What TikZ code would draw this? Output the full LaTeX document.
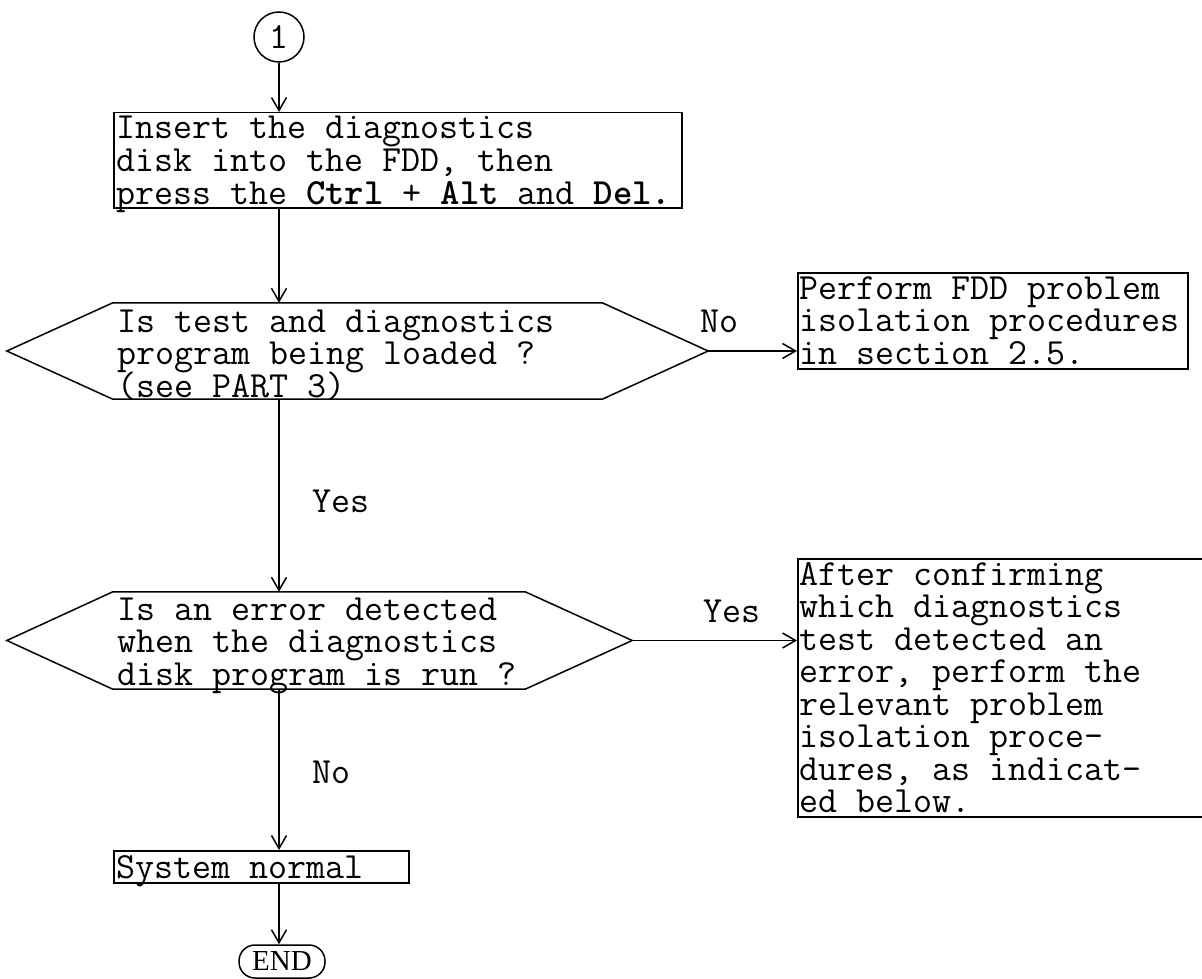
\documentclass[tikz,border=0pt]{standalone}
\usepackage{fontspec}
\newfontfamily\tms{Liberation Serif}
\usetikzlibrary{arrows.meta,calc}
\tikzset{
  ln/.style={line width=1.5pt},
  arr/.style={ln, -{Straight Barb[length=13pt,width=15pt,line width=1.5pt]}},
  boxn/.style={draw, ln, anchor=north west, inner sep=0pt},
  txt/.style={anchor=base west, inner sep=0pt, text height=21pt, text depth=7pt,
    font=\ttfamily\fontsize{36.9}{32.5}\selectfont},
  hexn/.style={inner sep=0pt, draw=none}
}
\newcommand\txtlines[4]{%
  \foreach \l [count=\i] in {#4} {\node[txt] (#1-\i) at (#2, {#3+(\i-1)*32.5}) {\l};}}
\begin{document}
\begin{tikzpicture}[x=1pt,y=-1pt]
\useasboundingbox (0,0) rectangle (1202,979);
\clip (0,0) rectangle (1202,979);
% start connector
\node[draw, ln, circle, minimum size=50pt, inner sep=0pt, font=\ttfamily\fontsize{36.9}{36.9}\selectfont] (c1) at (279,37) {1};
% box 1
\node[boxn, minimum width=568pt, minimum height=95pt] (b1) at (113,112) {};
\txtlines{t1}{116}{139}{{Insert the diagnostics},{disk into the FDD, then},{press the \textbf{Ctrl} + \textbf{Alt} and \textbf{Del.}}}
% decision 1
\node[hexn, minimum width=701pt, minimum height=96pt] (d1) at (357.5,351) {};
\draw[ln] (d1.west) -- ($(d1.north west)+(106,0)$) -- ($(d1.north east)+(-106,0)$) -- (d1.east)
  -- ($(d1.south east)+(-106,0)$) -- ($(d1.south west)+(106,0)$) -- cycle;
\txtlines{t2}{117}{332}{{Is test and diagnostics},{program being loaded ?},{(see PART 3)}}
% box 2
\node[boxn, minimum width=390pt, minimum height=96pt] (b2) at (797,272) {};
\txtlines{t3}{799}{299}{{Perform FDD problem},{isolation procedures},{in section 2.5.}}
% decision 2
\node[hexn, minimum width=625pt, minimum height=97pt] (d2) at (319.5,640.5) {};
\draw[ln] (d2.west) -- ($(d2.north west)+(106,0)$) -- ($(d2.north east)+(-107,0)$) -- (d2.east)
  -- ($(d2.south east)+(-107,0)$) -- ($(d2.south west)+(106,0)$) -- cycle;
\txtlines{t4}{117}{620}{{Is an error detected},{when the diagnostics},{disk program is run ?}}
% box 3
\node[boxn, minimum width=420pt, minimum height=258pt] (b3) at (797,558) {};
\txtlines{t5}{799}{585}{{After confirming},{which diagnostics},{test detected an},{error, perform the},{relevant problem},{isolation proce-},{dures, as indicat-},{ed below.}}
% box 4
\node[boxn, minimum width=295pt, minimum height=32pt] (b4) at (113,850) {};
\txtlines{t6}{116}{878}{{System normal}}
% end terminal
\node[draw, ln, rounded corners=16pt, minimum width=86pt, minimum height=33pt, inner sep=0pt,
  font=\tms\fontsize{29}{29}\selectfont] (e1) at (282,961.5) {END};
% labels
\node[txt] (l1) at (700,332) {No};
\node[txt] (l2) at (312,512) {Yes};
\node[txt] (l3) at (703,622) {Yes};
\node[txt] (l4) at (312,783) {No};
% connectors
\draw[arr] (c1.south) -- (c1.south |- b1.north);
\draw[arr] (c1.south |- b1.south) -- (c1.south |- d1.north);
\draw[arr] (d1.east) -- (d1.east -| b2.west);
\draw[arr] (c1.south |- d1.south) -- (c1.south |- d2.north);
\draw[arr] (d2.east) -- (d2.east -| b3.west);
\draw[arr] (c1.south |- d2.south) -- (c1.south |- b4.north);
\draw[arr] (c1.south |- b4.south) -- (c1.south |- e1.north);
\end{tikzpicture}
\end{document}
